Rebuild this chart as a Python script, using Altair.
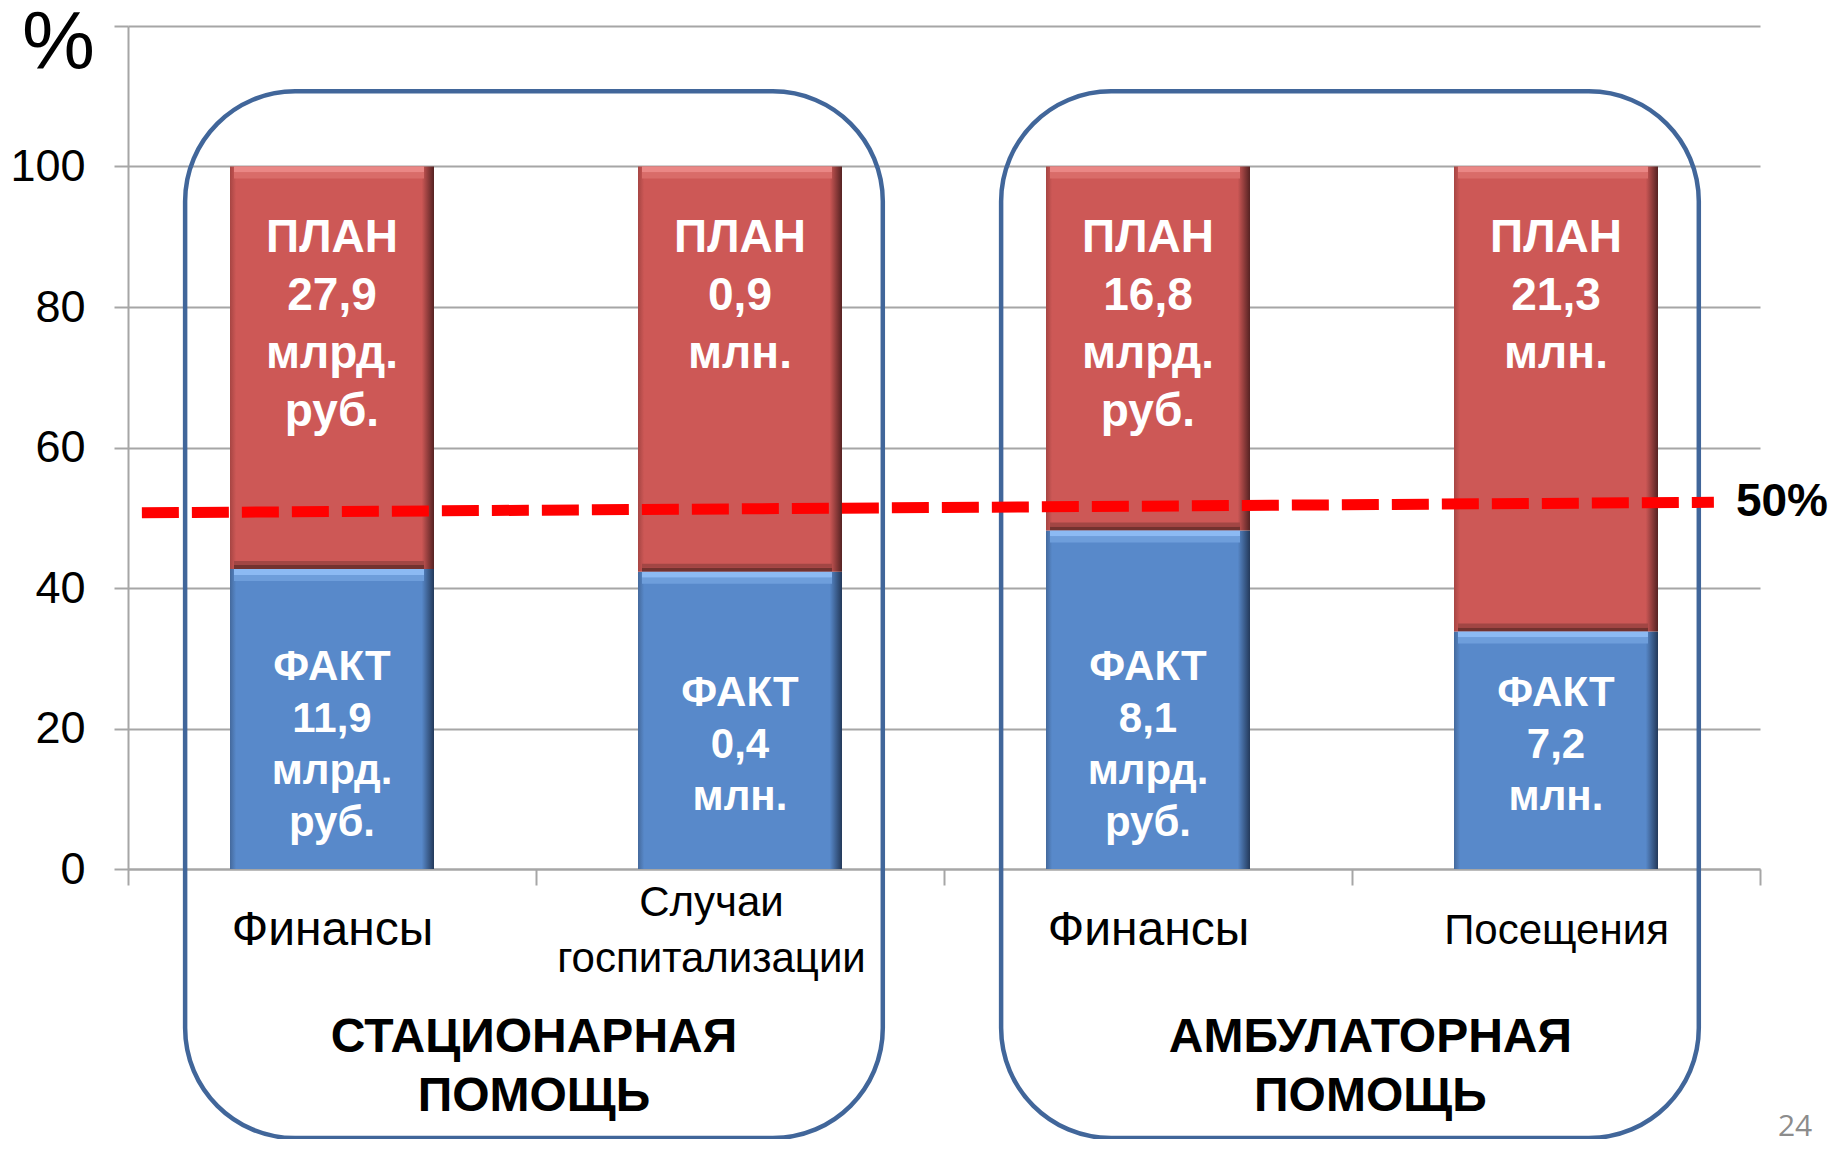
import json
import altair as alt
import pandas as pd

# ---- data ----
categories = ["Финансы", "Случаи\nгоспитализации", "Финансы", "Посещения"]
fact_pct = [42.7, 42.3, 48.2, 33.8]          # факт as % of план
plan_labels = ["ПЛАН\n27,9\nмлрд.\nруб.", "ПЛАН\n0,9\nмлн.", "ПЛАН\n16,8\nмлрд.\nруб.", "ПЛАН\n21,3\nмлн."]
fact_labels = ["ФАКТ\n11,9\nмлрд.\nруб.", "ФАКТ\n0,4\nмлн.", "ФАКТ\n8,1\nмлрд.\nруб.", "ФАКТ\n7,2\nмлн."]

group_names = ["СТАЦИОНАРНАЯ\nПОМОЩЬ", "АМБУЛАТОРНАЯ\nПОМОЩЬ"]
group_start = [0.14, 2.14]
group_end = [1.85, 3.85]
group_top = [110.7, 110.7]
group_bottom = [-38.3, -38.3]
group_title_x = [0.995, 3.045]
group_title_y = [-28.3, -28.3]

line_x = [0.034, 3.887]
line_y = [50.7, 52.2]
line_label = "50%"

page_number = "24"
page_x = [4.086]
page_y = [-36.7]

y_ticks = [0, 20, 40, 60, 80, 100, 120]

FONT = "Liberation Sans"
GRAY = "#A6A6A6"
W, H = 1632, 843
PX = H / 120.0  # pixels per y unit

n = len(categories)
bars = pd.DataFrame({
    "idx": list(range(n)),
    "fact": fact_pct,
    "plan_text": plan_labels,
    "fact_text": fact_labels,
})
bars["x0"] = bars["idx"] + 0.25
bars["x1"] = bars["idx"] + 0.75
bars["xc"] = bars["idx"] + 0.5
bars["zero"] = 0
bars["full"] = 100
bars["plan_anchor"] = 100
FACT_LH = 52
bars["fact_anchor"] = 17.6 + (bars["fact_text"].str.count("\n")) * FACT_LH / 2 / PX

TITLE_LH = 59
groups = pd.DataFrame({
    "name": group_names,
    "x0": group_start,
    "x1": group_end,
    "y0": group_top,
    "y1": group_bottom,
    "tx": group_title_x,
    "ty": group_title_y,
})
groups["ty_first"] = groups["ty"] + groups["name"].str.count("\n") * TITLE_LH / 2 / PX

line_df = pd.DataFrame({"x": line_x, "y": line_y})
label_df = line_df.tail(1).assign(t=line_label)
page_df = pd.DataFrame({"x": page_x, "y": page_y, "t": [page_number]})

cats_js = json.dumps(categories, ensure_ascii=False)
x_label_expr = (
    f"(datum.value % 1) == 0.5 ? split({cats_js}[floor(datum.value)], '\\n') : ''"
)

x_scale = alt.Scale(domain=[0, 4], nice=False, zero=False)
y_scale = alt.Scale(domain=[0, 120], nice=False)

x_axis = alt.Axis(
    values=[0, 0.5, 1, 1.5, 2, 2.5, 3, 3.5, 4],
    grid=False,
    title=None,
    tickSize=16,
    tickColor=GRAY,
    tickWidth=2,
    tickOpacity={"condition": {"test": "(datum.value % 1) != 0", "value": 0}, "value": 1},
    domainColor=GRAY,
    domainWidth=2,
    labelExpr=x_label_expr,
    labelFont=FONT,
    labelFontSize={"condition": {"test": "datum.value == 0.5 || datum.value == 2.5", "value": 48}, "value": 42},
    labelColor="#000000",
    labelPadding={"condition": {"test": "datum.value == 1.5", "value": 17}, "value": 45},
    labelBaseline="middle",
    labelLineHeight=56,
    labelOffset={"condition": {"test": "datum.value == 1.5", "value": -29}, "value": 0},
    labelFlush=False,
    labelOverlap=False,
    labelBound=False,
    labelLimit=0,
)

y_axis = alt.Axis(
    values=y_ticks,
    title="%",
    titleAngle=0,
    titleFont=FONT,
    titleFontSize=82,
    titleFontWeight="normal",
    titleColor="#000000",
    titleX=-70,
    titleY=17,
    titleAlign="center",
    titleBaseline="middle",
    labelExpr="datum.value == 120 ? '' : datum.label",
    labelFont=FONT,
    labelFontSize=45,
    labelColor="#000000",
    labelPadding=29,
    tickSize=14,
    tickColor=GRAY,
    tickWidth=2,
    domainColor=GRAY,
    domainWidth=2,
    gridColor=GRAY,
    gridWidth=2,
)

blue_grad = alt.Gradient(
    gradient="linear", x1=0, x2=1, y1=0, y2=0,
    stops=[
        alt.GradientStop(color="#44699C", offset=0),
        alt.GradientStop(color="#5889CA", offset=0.03),
        alt.GradientStop(color="#5889CA", offset=0.94),
        alt.GradientStop(color="#23395A", offset=1),
    ],
)
red_grad = alt.Gradient(
    gradient="linear", x1=0, x2=1, y1=0, y2=0,
    stops=[
        alt.GradientStop(color="#A64543", offset=0),
        alt.GradientStop(color="#CD5856", offset=0.03),
        alt.GradientStop(color="#CD5856", offset=0.94),
        alt.GradientStop(color="#552222", offset=1),
    ],
)

base = alt.Chart(bars)

fact_bars = base.mark_bar(color=blue_grad).encode(
    x=alt.X("x0:Q", scale=x_scale, axis=x_axis),
    x2="x1:Q",
    y=alt.Y("zero:Q", scale=y_scale, axis=y_axis),
    y2="fact:Q",
)
plan_bars = base.mark_bar(color=red_grad).encode(
    x="x0:Q", x2="x1:Q", y="fact:Q", y2="full:Q"
)


def bevel(yfield, offset, width, color):
    return base.mark_rule(
        color=color, strokeWidth=width, yOffset=offset, xOffset=4, x2Offset=-10,
        strokeCap="butt",
    ).encode(x="x0:Q", x2="x1:Q", y=f"{yfield}:Q")


bevels = [
    bevel("fact", -2, 4, "#73322F"),
    bevel("fact", -6, 4, "#A24644"),
    bevel("fact", 3, 6, "#8CBAF3"),
    bevel("fact", 9, 6, "#6E9EDB"),
    bevel("full", 3, 6, "#EA8785"),
    bevel("full", 9, 6, "#D96C69"),
]

plan_text = base.mark_text(
    font=FONT, fontSize=46, fontWeight="bold", color="white",
    lineBreak="\n", lineHeight=58, baseline="top", align="center", dy=49,
).encode(x="xc:Q", y="plan_anchor:Q", text="plan_text:N")

fact_text = base.mark_text(
    font=FONT, fontSize=42, fontWeight="bold", color="white",
    lineBreak="\n", lineHeight=FACT_LH, baseline="middle", align="center",
).encode(x="xc:Q", y="fact_anchor:Q", text="fact_text:N")

boxes = alt.Chart(groups).mark_rect(
    cornerRadius=110, fillOpacity=0, fill="white", stroke="#41669A", strokeWidth=4.5,
).encode(x="x0:Q", x2="x1:Q", y="y0:Q", y2="y1:Q")

group_titles = alt.Chart(groups).mark_text(
    font=FONT, fontSize=48, fontWeight="bold", color="black",
    lineBreak="\n", lineHeight=TITLE_LH, baseline="middle", align="center",
).encode(x="tx:Q", y="ty_first:Q", text="name:N")

dash_line = alt.Chart(line_df).mark_line(
    color="#FF0000", strokeWidth=11, strokeDash=[37, 13], strokeCap="butt",
).encode(x="x:Q", y="y:Q")

line_text = alt.Chart(label_df).mark_text(
    font=FONT, fontSize=46, fontWeight="bold", color="black",
    align="left", baseline="middle", dx=22,
).encode(x="x:Q", y="y:Q", text="t:N")

page_text = alt.Chart(page_df).mark_text(
    font="Open Sans", fontSize=30, color="#8C8C8C", align="center", baseline="middle",
).encode(x="x:Q", y="y:Q", text="t:N")

chart = alt.layer(
    fact_bars, plan_bars, *bevels, plan_text, fact_text, boxes, group_titles,
    dash_line, line_text, page_text,
).properties(
    width=W,
    height=H,
    padding={"left": 120, "top": 18, "right": 69, "bottom": 270},
    autosize=alt.AutoSizeParams(type="none"),
    background="white",
).configure_view(stroke=None)

chart.save("out.html", embed_options={"renderer": "svg", "actions": False})
